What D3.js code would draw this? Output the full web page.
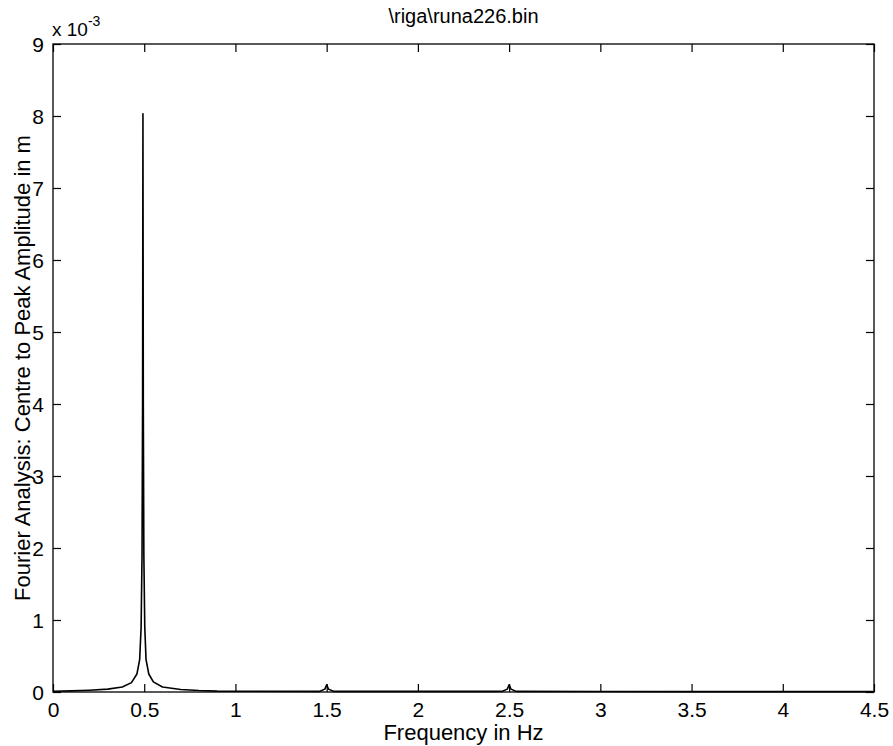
<!DOCTYPE html>
<html>
<head>
<meta charset="utf-8">
<script src="https://cdnjs.cloudflare.com/ajax/libs/d3/7.8.5/d3.min.js"></script>
<style>
  body { margin: 0; background: #fff; }
  svg text { font-family: "Liberation Sans", Arial, sans-serif; fill: #000; }
</style>
</head>
<body>
<div id="chart"></div>
<script>
// spectrum (amplitude in units of 1e-3 m)
const freqs = [0, 0.1, 0.2, 0.3, 0.38, 0.43, 0.46, 0.475, 0.483, 0.488, 0.491, 0.493,
  0.495, 0.498, 0.503, 0.51, 0.525, 0.55, 0.6, 0.7, 0.8, 0.9, 1.0,
  1.46, 1.49, 1.5, 1.51, 1.54, 2.0, 2.46, 2.49, 2.5, 2.51, 2.54, 3.0, 3.5, 4.0, 4.5];
const amps = [0.01, 0.015, 0.025, 0.04, 0.07, 0.13, 0.25, 0.45, 0.9, 1.9, 4.0, 8.03,
  4.0, 1.9, 0.9, 0.45, 0.25, 0.14, 0.07, 0.035, 0.02, 0.012, 0.01,
  0.008, 0.04, 0.1, 0.04, 0.008, 0.008, 0.008, 0.04, 0.1, 0.04, 0.008, 0.006, 0.005, 0.005, 0.005];

const xTicks = [0, 0.5, 1, 1.5, 2, 2.5, 3, 3.5, 4, 4.5];
const yTicks = [0, 1, 2, 3, 4, 5, 6, 7, 8, 9];

const titleText = "\\riga\\runa226.bin";
const xLabel = "Frequency in Hz";
const yLabel = "Fourier Analysis: Centre to Peak Amplitude in m";

const width = 893, height = 746;
const margin = { top: 44, right: 19, bottom: 54, left: 53 };
const tickLen = 8;

const svg = d3.select('#chart').append('svg')
  .attr('width', width)
  .attr('height', height);

const x = d3.scaleLinear().domain([0, 4.5]).range([margin.left, width - margin.right]);
const y = d3.scaleLinear().domain([0, 9]).range([height - margin.bottom, margin.top]);

const data = freqs.map((f, i) => ({ f: f, a: amps[i] }));

// box
svg.append('rect')
  .attr('x', x(0)).attr('y', y(9))
  .attr('width', x(4.5) - x(0)).attr('height', y(0) - y(9))
  .attr('fill', 'none').attr('stroke', '#000').attr('stroke-width', 1.3);

// axes with inward ticks
const fmtX = d => d3.format('')(d);
const axBottom = svg.append('g')
  .attr('transform', `translate(0,${y(0)})`)
  .call(d3.axisBottom(x).tickValues(xTicks).tickSizeInner(-tickLen).tickSizeOuter(0).tickPadding(10).tickFormat(fmtX));
const axTop = svg.append('g')
  .attr('transform', `translate(0,${y(9)})`)
  .call(d3.axisTop(x).tickValues(xTicks).tickSizeInner(-tickLen).tickSizeOuter(0).tickFormat(''));
const axLeft = svg.append('g')
  .attr('transform', `translate(${x(0)},0)`)
  .call(d3.axisLeft(y).tickValues(yTicks).tickSizeInner(-tickLen).tickSizeOuter(0).tickPadding(9));
const axRight = svg.append('g')
  .attr('transform', `translate(${x(4.5)},0)`)
  .call(d3.axisRight(y).tickValues(yTicks).tickSizeInner(-tickLen).tickSizeOuter(0).tickFormat(''));

svg.selectAll('.domain').remove();
svg.selectAll('.tick line').attr('stroke', '#000').attr('stroke-width', 1.2);
svg.selectAll('.tick text').style('font-size', '21px').attr('fill', '#000');
axBottom.selectAll('.tick text').attr('dy', '15px');
axLeft.selectAll('.tick text').attr('dy', '0.36em');

// spectrum line
const line = d3.line()
  .x(d => x(d.f))
  .y(d => y(d.a));

svg.append('path')
  .datum(data)
  .attr('d', line)
  .attr('fill', 'none')
  .attr('stroke', '#000')
  .attr('stroke-width', 1.6)
  .attr('stroke-linejoin', 'round');

// exponent label
const ex = svg.append('text')
  .attr('x', x(0) - 1)
  .attr('y', y(9) - 8)
  .style('font-size', '19px');
ex.append('tspan').text('x 10');
ex.append('tspan').attr('dy', -10).style('font-size', '14px').text('-3');

// title and axis labels
svg.append('text')
  .attr('x', (x(0) + x(4.5)) / 2)
  .attr('y', 23)
  .attr('text-anchor', 'middle')
  .style('font-size', '20px')
  .text(titleText);

svg.append('text')
  .attr('x', (x(0) + x(4.5)) / 2)
  .attr('y', 740)
  .attr('text-anchor', 'middle')
  .style('font-size', '22px')
  .text(xLabel);

svg.append('text')
  .attr('transform', `translate(30,${(y(0) + y(9)) / 2}) rotate(-90)`)
  .attr('text-anchor', 'middle')
  .style('font-size', '22px')
  .text(yLabel);
</script>
</body>
</html>
